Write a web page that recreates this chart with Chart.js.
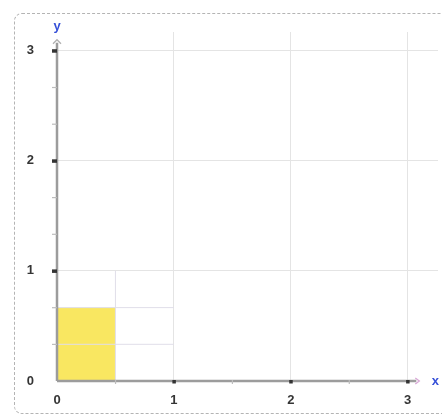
<!DOCTYPE html>
<html>
<head>
<meta charset="utf-8">
<script src="https://cdn.jsdelivr.net/npm/chart.js@4.4.1/dist/chart.umd.min.js"></script>
<style>
  html, body { margin: 0; padding: 0; background: #fff; }
  #wrap { position: relative; width: 442px; height: 419px; overflow: hidden; }
  #frame {
    position: absolute; left: 14px; top: 13px; width: 440px; height: 401px;
    border: 1.5px dashed #b4b4b4; border-radius: 8px; box-sizing: border-box;
  }
  #plot { position: absolute; left: 0; top: 0; }
</style>
</head>
<body>
<div id="wrap">
  <div id="frame"></div>
  <canvas id="plot" width="442" height="419"></canvas>
</div>
<script>
// axis ranges and ticks
const xTickValues = [0, 0.5, 1, 1.5, 2, 2.5, 3];
const yTickValues = [0, 1/3, 2/3, 1, 4/3, 5/3, 2, 7/3, 8/3, 3];
const xAxisEnd = 3.1;   // where the arrow sits
const yAxisEnd = 3.1;

// shaded rectangle (top edge)
const shadedX = [0, 0.5];
const shadedY = [2/3, 2/3];

// fine grid inside the unit square
const subGridX = [0.5];
const subGridY = [1/3, 2/3];
const unitSide = 1;

const isWhole = v => Math.abs(v - Math.round(v)) < 1e-9;

// fine grid as line segments, broken by nulls
const subGridData = [];
subGridX.forEach(x => {
    subGridData.push({ x: x, y: 0 }, { x: x, y: unitSide }, { x: x, y: null });
});
subGridY.forEach(y => {
    subGridData.push({ x: 0, y: y }, { x: unitSide, y: y }, { x: null, y: null });
});

// draws the two axes with arrows, tick marks and the x / y names
const axesPlugin = {
    id: 'axes',
    afterDatasetsDraw(chart) {
        const ctx = chart.ctx;
        const xs = chart.scales.x;
        const ys = chart.scales.y;
        const x0 = xs.getPixelForValue(0);
        const y0 = ys.getPixelForValue(0);
        const xEnd = xs.getPixelForValue(xAxisEnd);
        const yEnd = ys.getPixelForValue(yAxisEnd);
        ctx.save();

        ctx.strokeStyle = '#9c9c9c';
        ctx.lineWidth = 2.5;
        ctx.beginPath();
        ctx.moveTo(x0, y0);
        ctx.lineTo(xEnd - 3, y0);
        ctx.moveTo(x0, y0);
        ctx.lineTo(x0, yEnd + 3);
        ctx.stroke();

        // arrow heads
        ctx.lineWidth = 1.3;
        ctx.strokeStyle = '#d9a8d6';
        ctx.beginPath();
        ctx.moveTo(xEnd - 4, y0 - 3);
        ctx.lineTo(xEnd, y0);
        ctx.lineTo(xEnd - 4, y0 + 3);
        ctx.stroke();
        ctx.strokeStyle = '#b0b0b0';
        ctx.beginPath();
        ctx.moveTo(x0 - 4, yEnd + 4);
        ctx.lineTo(x0, yEnd);
        ctx.lineTo(x0 + 4, yEnd + 4);
        ctx.stroke();

        // tick marks
        xTickValues.forEach(v => {
            if (v === 0) return;
            const px = xs.getPixelForValue(v);
            if (isWhole(v)) {
                ctx.fillStyle = '#333';
                ctx.fillRect(px - 1.5, y0 - 1, 3.5, 3.5);
            } else {
                ctx.fillStyle = '#bdbdbd';
                ctx.fillRect(px - 0.5, y0 - 1, 1.2, 4);
            }
        });
        yTickValues.forEach(v => {
            if (v === 0) return;
            const py = ys.getPixelForValue(v);
            if (isWhole(v)) {
                ctx.fillStyle = '#333';
                ctx.fillRect(x0 - 5, py - 1.5, 5, 3.5);
            } else {
                ctx.fillStyle = '#bdbdbd';
                ctx.fillRect(x0 - 5, py - 0.5, 5, 1.2);
            }
        });

        // axis names
        ctx.fillStyle = '#3650d8';
        ctx.font = 'bold 13px "Liberation Sans", Arial, sans-serif';
        ctx.textAlign = 'center';
        ctx.textBaseline = 'middle';
        ctx.fillText('x', xEnd + 16, y0);
        ctx.fillText('y', x0, yEnd - 13);
        ctx.restore();
    }
};

const data = {
    datasets: [
        {
            label: 'fine grid',
            data: subGridData,
            borderColor: '#e0dee9',
            borderWidth: 1,
            pointRadius: 0,
            fill: false,
            spanGaps: false,
            order: 0
        },
        {
            label: 'shaded',
            data: shadedX.map((x, i) => ({ x: x, y: shadedY[i] })),
            borderWidth: 0,
            borderColor: 'rgba(0,0,0,0)',
            backgroundColor: 'rgba(248, 228, 80, 0.9)',
            pointRadius: 0,
            fill: 'origin',
            order: 1
        }
    ]
};

const tickFont = { family: '"Liberation Sans", Arial, sans-serif', size: 13, weight: 'bold' };

const config = {
    type: 'line',
    data: data,
    plugins: [axesPlugin],
    options: {
        responsive: false,
        animation: false,
        layout: { padding: { top: 32, right: 4, left: 0, bottom: 0 } },
        plugins: {
            legend: { display: false },
            tooltip: { enabled: false }
        },
        scales: {
            x: {
                type: 'linear',
                min: 0,
                max: 3.26,
                afterBuildTicks: scale => { scale.ticks = xTickValues.map(v => ({ value: v })); },
                afterFit: scale => { scale.height = 38; },
                border: { display: false },
                grid: {
                    drawTicks: false,
                    color: c => (c.tick && isWhole(c.tick.value) && c.tick.value > 0) ? '#e4e4e4' : 'rgba(0,0,0,0)'
                },
                ticks: {
                    autoSkip: false,
                    maxRotation: 0,
                    padding: 12,
                    color: '#353535',
                    font: tickFont,
                    callback: v => isWhole(v) ? String(Math.round(v)) : ''
                }
            },
            y: {
                type: 'linear',
                min: 0,
                max: 3.17,
                afterBuildTicks: scale => { scale.ticks = yTickValues.map(v => ({ value: v })); },
                afterFit: scale => { scale.width = 57; },
                border: { display: false },
                grid: {
                    drawTicks: false,
                    color: c => (c.tick && isWhole(c.tick.value) && c.tick.value > 0) ? '#e4e4e4' : 'rgba(0,0,0,0)'
                },
                ticks: {
                    autoSkip: false,
                    padding: 23,
                    color: '#353535',
                    font: tickFont,
                    callback: v => isWhole(v) ? String(Math.round(v)) : ''
                }
            }
        }
    }
};

new Chart(document.getElementById('plot'), config);
</script>
</body>
</html>
